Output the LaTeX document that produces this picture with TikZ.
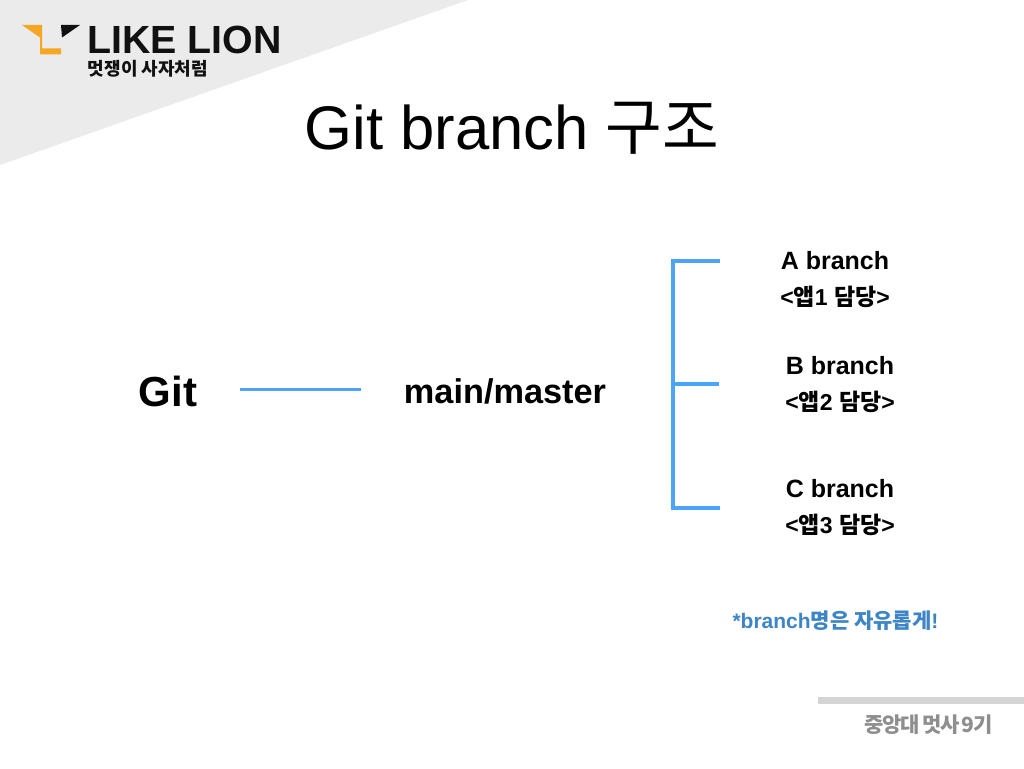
\documentclass[tikz,border=0pt]{standalone}
\usepackage{fontspec}
\setmainfont{Liberation Sans}
\newfontfamily\kr{Noto Sans CJK KR}
\newfontfamily\krtight[LetterSpace=-5,WordSpace=0.5]{Noto Sans CJK KR}
\definecolor{blueline}{HTML}{4DA3F7}
\definecolor{bluetext}{HTML}{3D85C6}
\definecolor{greytri}{HTML}{EBEBEB}
\definecolor{greybar}{HTML}{D6D5D5}
\definecolor{greytext}{HTML}{8E8E8E}
\definecolor{orangelogo}{HTML}{F5A623}
\definecolor{ink}{HTML}{111111}
\tikzset{
  txt/.style={inner sep=0pt,outer sep=0pt,anchor=center,text=black},
  conn/.style={draw=blueline,line width=3pt}
}
\newcommand{\fs}[1]{\fontsize{#1}{#1}\selectfont}
\begin{document}
\begin{tikzpicture}[x=1pt,y=-1pt]
\useasboundingbox (0,0) rectangle (1024,768);
\fill[white] (0,0) rectangle (1024,768);
\fill[greytri] (0,0) -- (468,0) -- (0,165) -- cycle;
% logo
\fill[orangelogo] (22,25) -- (42,25) -- (42,48.5) -- (61,48.5) -- (61,54.5) -- (40,54.5) -- (40,37.5) -- cycle;
\fill[ink] (61,25) -- (80,25) -- (62,37.5) -- cycle;
\node[txt,text=ink,font=\fs{39.3}\bfseries,text height=28pt,text depth=0pt] (logo) at (184.5,39) {LIKE LION};
\node[txt,text=ink,font=\kr\fs{18}\bfseries,text height=14pt,text depth=2pt] (logosub) at (148,69.5) {멋쟁이 사자처럼};
% title
\node[txt,font=\fs{61.6}] (title) at (512,128) {Git branch {\kr 구조}};
% main
\node[txt,font=\fs{42}\bfseries] (git) at (168,391) {Git};
\node[txt,font=\fs{34.3}\bfseries] (main) at (505,391) {main/master};
\coordinate (gitR) at (240,389);
\coordinate (mainL) at (361,389);
\draw[conn] (gitR) -- (mainL);
\coordinate (top) at (720,261);
\coordinate (mid) at (719,384);
\coordinate (bot) at (720,508);
\coordinate (topC) at (673,261);
\coordinate (midC) at (673,384);
\coordinate (botC) at (673,508);
\draw[draw=blueline,line width=4pt] (top) -- (topC) -- (botC) -- (bot);
\draw[conn,line width=3.5pt] (midC) -- (mid);
% branches
\node[txt,font=\fs{25}\bfseries] (a) at (835,261) {A branch};
\node[txt,font=\fs{23}\bfseries] (a2) at (835,297) {<{\kr 앱}1 {\kr 담당}>};
\node[txt,font=\fs{25}\bfseries] (b) at (840,366) {B branch};
\node[txt,font=\fs{23}\bfseries] (b2) at (840,402) {<{\kr 앱}2 {\kr 담당}>};
\node[txt,font=\fs{25}\bfseries] (c) at (840,489) {C branch};
\node[txt,font=\fs{23}\bfseries] (c2) at (840,525) {<{\kr 앱}3 {\kr 담당}>};
\node[txt,text=bluetext,font=\fs{21}\bfseries] (note) at (835.5,621) {*branch{\kr 명은 자유롭게}!};
% footer
\fill[greybar] (818,697) rectangle (1024,704);
\node[txt,text=greytext,font=\krtight\fs{21}\bfseries] (foot) at (928.5,725) {중앙대 멋사 9기};
\end{tikzpicture}
\end{document}
